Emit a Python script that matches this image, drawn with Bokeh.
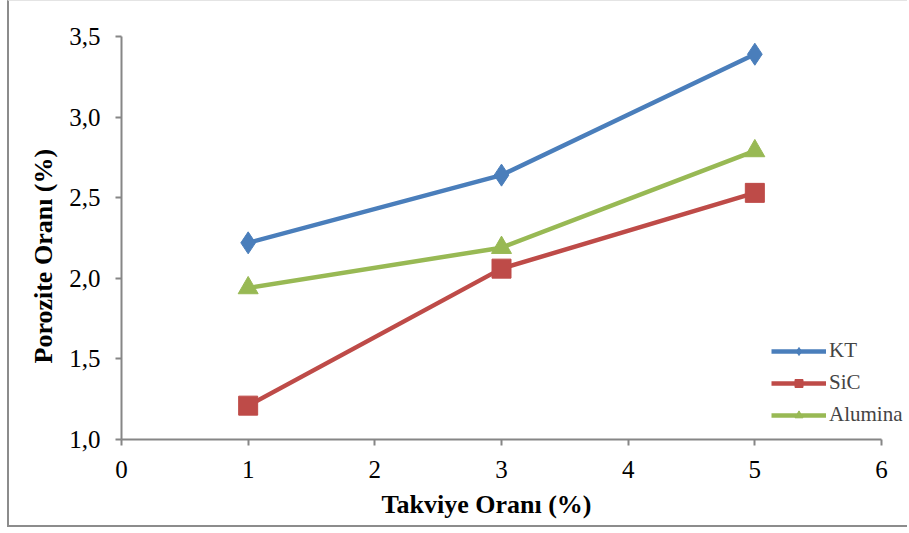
from bokeh.plotting import figure
from bokeh.models import FixedTicker, Legend, Title
from bokeh.embed import file_html
from bokeh.resources import INLINE

# Reinforcement ratio (%) and porosity ratio (%) for each reinforcement type
takviye = [1, 3, 5]
kt = [2.22, 2.64, 3.39]
sic = [1.21, 2.06, 2.53]
alumina = [1.94, 2.19, 2.79]

x_ticks = [0, 1, 2, 3, 4, 5, 6]
y_ticks = [1.0, 1.5, 2.0, 2.5, 3.0, 3.5]
y_tick_labels = ["1,0", "1,5", "2,0", "2,5", "3,0", "3,5"]

x_title = "Takviye Oranı (%)"
y_title = "Porozite Oranı (%)"

FONT = "Liberation Serif"
AXIS_COLOR = "#868686"

# x range runs a little past 6 so the legend has room inside the frame;
# the axis line itself is bounded to 0..6
p = figure(
    width=900, height=527,
    x_range=(0, 6.221), y_range=(1.0, 3.5),
    output_backend="svg", toolbar_location=None,
    min_border_left=112, min_border_right=0,
    min_border_top=35, min_border_bottom=89,
    styles={
        "margin-left": "7px",
        "border-left": "2px solid #8c8c8c",
        "border-bottom": "2px solid #8c8c8c",
        "border-top": "1px solid #e4e4e4",
    },
)
p.outline_line_color = None
p.xgrid.visible = False
p.ygrid.visible = False

for ax in (p.xaxis[0], p.yaxis[0]):
    ax.axis_line_color = AXIS_COLOR
    ax.axis_line_width = 2
    ax.major_tick_line_color = AXIS_COLOR
    ax.major_tick_line_width = 2
    ax.major_tick_out = 6
    ax.major_tick_in = 0
    ax.minor_tick_line_color = None
    ax.major_label_text_font = FONT
    ax.major_label_text_font_size = "25px"
    ax.major_label_text_color = "#000000"

p.xaxis.bounds = (0, 6)
p.xaxis.ticker = FixedTicker(ticks=x_ticks)
p.yaxis.ticker = FixedTicker(ticks=y_ticks)
p.yaxis.major_label_overrides = {t: l for t, l in zip(y_ticks, y_tick_labels)}
p.xaxis.major_label_standoff = 15
p.yaxis.major_label_standoff = 15

# Axis titles, placed off-centre like the original layout
p.add_layout(Title(text=x_title, align="left", offset=260, standoff=15,
                   text_font=FONT, text_font_size="26px",
                   text_font_style="bold", text_color="#000000"), "below")
p.add_layout(Title(text=y_title, align="left", offset=76, standoff=14,
                   vertical_align="top",
                   text_font=FONT, text_font_size="26px",
                   text_font_style="bold", text_color="#000000"), "left")

series = [
    ("KT", kt, "#4A7EBB", "diamond", 22),
    ("SiC", sic, "#BE4B48", "square", 19),
    ("Alumina", alumina, "#98B954", "triangle", 20),
]

items = []
for name, vals, color, marker, size in series:
    ln = p.line(takviye, vals, line_color=color, line_width=4.5)
    sc = p.scatter(takviye, vals, marker=marker, size=size,
                   fill_color=color, line_color=color)
    items.append((name, [ln, sc]))

legend = Legend(
    items=items, location=(650, 12),
    border_line_color=None, background_fill_alpha=0,
    label_text_font=FONT, label_text_font_size="21px",
    glyph_width=55, glyph_height=20, spacing=7,
    label_standoff=3, padding=0, margin=0,
)
p.add_layout(legend, "center")

open("out.html", "w").write(file_html(p, INLINE))
